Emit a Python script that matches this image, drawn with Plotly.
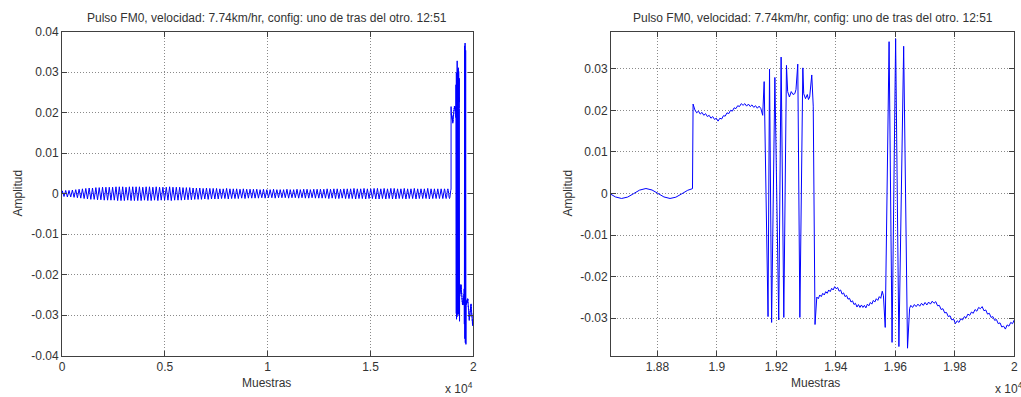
import plotly.graph_objects as go

# ---------------- data (amplitudes in units of 1e-4) ----------------
title_text = "Pulso FM0, velocidad: 7.74km/hr, config: uno de tras del otro. 12:51"

# slow pre-pulse tone: one amplitude per ~163-sample cycle
cycle_first_peak = 16.5
cycle_len = 163
cycle_amp = [7, 8, 8, 9,
             10, 11, 12, 13, 14,
             14, 15, 15, 16, 16, 16,
             16, 17, 17, 17, 16, 17, 17, 17, 17, 16, 17, 17, 16, 17, 16, 16, 16, 17, 16, 16, 16, 15,
             15, 15, 14, 14, 14, 13, 14, 13, 13, 13, 12, 12, 13, 12, 12, 12, 11, 12, 11,
             11, 11, 11, 10, 11, 10, 10, 11, 10, 10, 10, 11, 10, 10, 11, 10, 11, 11, 10, 11, 11, 11, 11, 12, 11,
             12, 12, 11, 12, 12, 12, 13, 12, 12, 13, 12, 12, 13, 13, 12, 13, 12, 13, 13, 12, 12, 13, 12, 12, 13,
             12, 12, 12, 13, 12, 12, 12, 12]

# last part of the tone
tail_x = [18598.5, 18619, 18639, 18659, 18679.5, 18700, 18720, 18740, 18761.5,
          18782, 18802, 18822, 18842.5, 18862, 18882, 18902, 18918]
tail_y = [12, 8.4, 0.1, -8.3, -12, -8.6, -0.4, 8.1, 12, 8.4, 0.1, -8.3, -12, -8.9, -0.8, 7.8, 11.6]

jump_x = [18920]
jump_y = [215]

seg2_x = list(range(18926, 19149, 6))
seg2_y = [201, 194, 198, 191, 195, 188, 192, 185, 188, 181, 185, 178, 181, 174, 181, 179, 187, 186,
          194, 192, 200, 198, 206, 204, 211, 209, 216, 212, 216, 210, 215, 209, 213, 207, 211, 205,
          210, 204]

burst1_x = [19154, 19159, 19172, 19177, 19184, 19195, 19208, 19216, 19225, 19234, 19238, 19244,
            19250, 19256, 19262, 19266, 19272, 19279, 19289, 19292, 19298, 19304, 19308, 19312,
            19319, 19324, 19330]
burst1_y = [188, 269, -296, 299, -310, 279, -304, 328, -298, 308, 245, 232, 245, 238, 240, 250,
            311, -298, 302, 240, 228, 238, 226, 232, 285, 210, -315]

seg3_x = list(range(19336, 19552, 5))
seg3_y = [-249, -253, -244, -248, -240, -244, -236, -240, -232, -236,
          -228, -232, -224, -229, -226, -235, -232, -242, -239, -248,
          -245, -254, -252, -261, -258, -267, -264, -273, -267, -274,
          -268, -274, -269, -275, -266, -270, -262, -266, -257, -261,
          -253, -257, -248, -252]

burst2_x = [19556, 19560, 19566, 19579, 19589, 19601, 19612, 19628, 19641, 19648]
burst2_y = [-235, -246, -322, 365, -358, 372, -368, 354, -372, -276]

seg5_x = list(range(19652, 20001, 6))
seg5_y = [-269, -274, -267, -272, -266, -271, -264, -269, -262, -268,
          -261, -266, -259, -264, -260, -270, -269, -279, -277, -287,
          -286, -296, -294, -304, -302, -313, -306, -310, -301, -304,
          -296, -299, -290, -293, -285, -288, -279, -283, -274, -277,
          -272, -282, -280, -290, -288, -298, -296, -305, -303, -313,
          -311, -321, -319, -326, -316, -319, -310, -313, -304]

left_xticks = [0, 5000, 10000, 15000, 20000]
left_xticktext = ["0", "0.5", "1", "1.5", "2"]
left_yticks = [0.04, 0.03, 0.02, 0.01, 0, -0.01, -0.02, -0.03, -0.04]
left_yticktext = ["0.04", "0.03", "0.02", "0.01", "0", "-0.01", "-0.02", "-0.03", "-0.04"]
right_xticks = [18800, 19000, 19200, 19400, 19600, 19800, 20000]
right_xticktext = ["1.88", "1.9", "1.92", "1.94", "1.96", "1.98", "2"]
right_yticks = [0.03, 0.02, 0.01, 0, -0.01, -0.02, -0.03]
right_yticktext = ["0.03", "0.02", "0.01", "0", "-0.01", "-0.02", "-0.03"]

# ---------------- assemble the signal polyline ----------------
xs = [0]
ys = [0]
for i, a in enumerate(cycle_amp):
    xs += [cycle_first_peak + cycle_len * i, cycle_first_peak + cycle_len * i + cycle_len / 2]
    ys += [a, -a]
for px, py in [(tail_x, tail_y), (jump_x, jump_y), (seg2_x, seg2_y), (burst1_x, burst1_y),
               (seg3_x, seg3_y), (burst2_x, burst2_y), (seg5_x, seg5_y)]:
    xs += list(px)
    ys += list(py)
ys = [v * 1e-4 for v in ys]

W, H = 1021, 397
FONT = "Arial, Liberation Sans, sans-serif"
TXT = "#333333"

fig = go.Figure()
line = dict(color="#0000ff", width=1, simplify=False)
fig.add_trace(go.Scatter(x=xs, y=ys, mode="lines", line=line, xaxis="x", yaxis="y",
                         showlegend=False, hoverinfo="skip"))
fig.add_trace(go.Scatter(x=xs, y=ys, mode="lines", line=line, xaxis="x2", yaxis="y2",
                         showlegend=False, hoverinfo="skip"))

ax = dict(showline=True, linecolor="#404040", linewidth=1, mirror="ticks", ticks="inside",
          ticklen=5, tickcolor="#404040", showgrid=True, gridcolor="#8a8a8a", gridwidth=1,
          griddash="1px,2px", zeroline=False, tickfont=dict(family=FONT, size=12, color=TXT),
          tickmode="array", automargin=False)

ydom = [1 - 355.7 / H, 1 - 31.7 / H]
fig.update_layout(
    template="none",
    width=W, height=H, margin=dict(l=0, r=0, t=0, b=0, pad=0, autoexpand=False), autosize=False,
    paper_bgcolor="white", plot_bgcolor="white", showlegend=False,
    xaxis=dict(ax, domain=[62 / W, 473.3 / W], range=[0, 20000], anchor="y",
               tickvals=left_xticks, ticktext=left_xticktext),
    yaxis=dict(ax, domain=ydom, range=[-0.04, 0.04], anchor="x",
               tickvals=left_yticks, ticktext=left_yticktext),
    xaxis2=dict(ax, domain=[611 / W, 1014.3 / W], range=[18644, 20000], anchor="y2",
                tickvals=right_xticks, ticktext=right_xticktext),
    yaxis2=dict(ax, domain=ydom, range=[-0.0390, 0.0389], anchor="x2",
                tickvals=right_yticks, ticktext=right_yticktext),
)

def ann(x, y, text, angle=0, xanchor="center"):
    fig.add_annotation(x=x / W, y=1 - y / H, xref="paper", yref="paper", text=text,
                       showarrow=False, textangle=angle, xanchor=xanchor, yanchor="middle",
                       font=dict(family=FONT, size=12, color=TXT))

ann(267, 18.3, title_text)
ann(813, 18.3, title_text)
ann(266, 382.7, "Muestras")
ann(815, 382.7, "Muestras")
ann(17.5, 193, "Amplitud", angle=-90)
ann(567.5, 193, "Amplitud", angle=-90)
ann(443, 388, "x 10<sup>4</sup>", xanchor="left")
ann(993, 388, "x 10<sup>4</sup>", xanchor="left")

fig.write_html(
    "out.html",
    config={"responsive": False, "displayModeBar": False},
    post_script="document.body.style.margin='0';document.body.style.overflow='hidden';",
)
